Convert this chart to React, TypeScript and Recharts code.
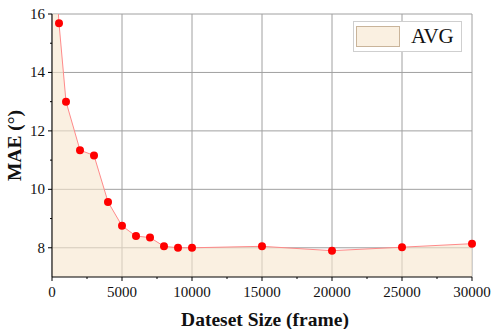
import { AreaChart, Area, XAxis, YAxis, CartesianGrid } from "recharts";

const sizes = [0, 500, 1000, 2000, 3000, 4000, 5000, 6000, 7000, 8000, 9000, 10000, 15000, 20000, 25000, 30000];
const maeAvg = [19.5, 15.68, 13.0, 11.34, 11.16, 9.57, 8.75, 8.4, 8.35, 8.05, 8.0, 8.0, 8.05, 7.9, 8.02, 8.14];

const xMajor = [0, 5000, 10000, 15000, 20000, 25000, 30000];
const xMinor = [2500, 7500, 12500, 17500, 22500, 27500];
const yMajor = [8, 10, 12, 14, 16];
const yMinor = [9, 11, 13, 15];

const seriesName = "AVG";

const data = sizes.map((s, i) => ({ size: s, mae: maeAvg[i] }));

const serif = "Liberation Serif, Times New Roman, serif";

function XTick(props: any) {
  const { x, y, payload } = props;
  const major = xMajor.includes(payload.value);
  return (
    <g>
      <line x1={x} x2={x} y1={y} y2={y + (major ? 4 : 2)} stroke="#000" />
      {major && (
        <text x={x} y={y + 20} textAnchor="middle" style={{ fontFamily: serif, fontSize: 15 }} fill="#111">
          {payload.value}
        </text>
      )}
    </g>
  );
}

function YTick(props: any) {
  const { x, y, payload } = props;
  const major = yMajor.includes(payload.value);
  return (
    <g>
      <line x1={x} x2={x - (major ? 4 : 2)} y1={y} y2={y} stroke="#000" />
      {major && (
        <text x={x - 7} y={y + 5} textAnchor="end" style={{ fontFamily: serif, fontSize: 15 }} fill="#111">
          {payload.value}
        </text>
      )}
    </g>
  );
}

export default function App() {
  return (
    <div
      style={{
        position: "absolute",
        left: 0,
        top: 0,
        width: 493,
        height: 329,
        background: "#fff",
        fontFamily: serif,
      }}
    >
      <AreaChart
        width={493}
        height={329}
        data={data}
        margin={{ top: 14, right: 21, left: 0, bottom: 0 }}
        style={{ fontFamily: serif }}
      >
        <XAxis
          dataKey="size"
          type="number"
          domain={[0, 30000]}
          ticks={[...xMajor, ...xMinor].sort((a, b) => a - b)}
          tick={<XTick />}
          tickLine={false}
          tickSize={0}
          tickMargin={0}
          height={52}
          interval={0}
          axisLine={{ stroke: "#000" }}
          label={{
            value: "Dateset Size (frame)",
            position: "insideBottom",
            offset: 3,
            dx: 3,
            style: { fontFamily: serif, fontWeight: "bold", fontSize: 19.5, fill: "#111" },
          }}
        />
        <YAxis
          type="number"
          domain={[7, 16]}
          allowDataOverflow
          ticks={[...yMinor, ...yMajor].sort((a, b) => a - b)}
          tick={<YTick />}
          tickLine={false}
          tickSize={0}
          tickMargin={0}
          width={52}
          interval={0}
          axisLine={{ stroke: "#000" }}
          label={{
            value: "MAE (°)",
            angle: -90,
            position: "insideLeft",
            offset: 14,
            style: { fontFamily: serif, fontWeight: "bold", fontSize: 19.5, fill: "#111", textAnchor: "middle" },
          }}
        />
        <CartesianGrid stroke="#a0a0a0" strokeWidth={1} verticalValues={xMajor} horizontalValues={yMajor} />
        <Area
          type="linear"
          dataKey="mae"
          name={seriesName}
          baseValue={7}
          stroke="#ff8a8a"
          strokeWidth={1}
          fill="#f7e6cd"
          fillOpacity={0.6}
          dot={{ r: 4, fill: "#ff0000", fillOpacity: 1, stroke: "none" }}
          activeDot={false}
          isAnimationActive={false}
        />
      </AreaChart>
      <div
        style={{
          position: "absolute",
          left: 353,
          top: 21,
          width: 107,
          height: 29,
          border: "1px solid #cfcfcf",
          background: "#fff",
          display: "flex",
          alignItems: "center",
        }}
      >
        <div
          style={{
            marginLeft: 2,
            width: 42,
            height: 19,
            background: "#faf0e1",
            border: "1px solid #c9b49a",
          }}
        />
        <span style={{ marginLeft: 11, fontSize: 21, color: "#111" }}>{seriesName}</span>
      </div>
    </div>
  );
}
